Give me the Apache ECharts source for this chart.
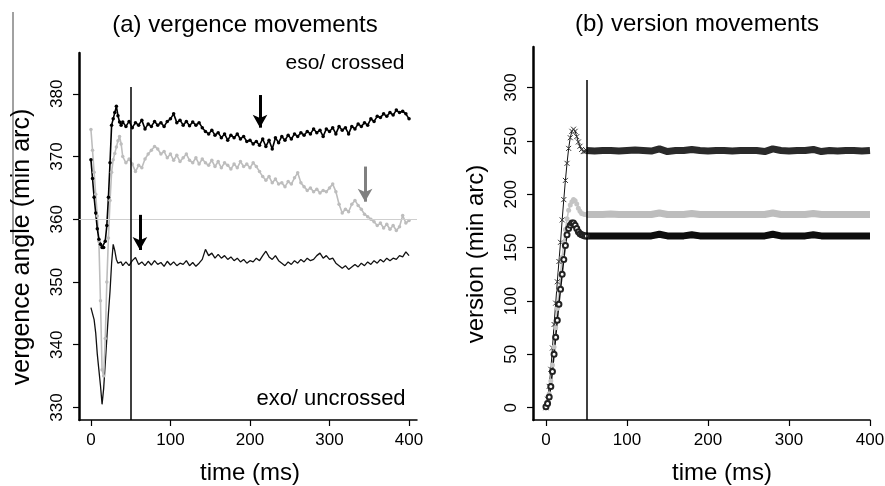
<!DOCTYPE html>
<html>
<head>
<meta charset="utf-8">
<script src="https://cdn.jsdelivr.net/npm/echarts@6/dist/echarts.min.js"></script>
<style>
  html, body { margin: 0; padding: 0; background: #fff; }
  #chart { width: 885px; height: 486px; }
</style>
</head>
<body>
<div id="chart"></div>
<script>
/* tick labels */
const xTicks = [0, 100, 200, 300, 400];
const yTicksA = [330, 340, 350, 360, 370, 380];
const yTicksB = [0, 50, 100, 150, 200, 250, 300];

/* (a) vergence: sample times (ms) */
const tA = [0,2,4,6,8,10,12,14,16,18,20,22,24,26,28,30,32,34,36,38,40,
  44,48,52,56,60,64,68,72,76,80,84,88,92,96,100,104,108,112,116,120,
  124,128,132,136,140,144,148,152,156,160,164,168,172,176,180,184,188,192,196,200,
  204,208,212,216,220,224,228,232,236,240,244,248,252,256,260,264,268,272,276,280,
  284,288,292,296,300,304,308,312,316,320,324,328,332,336,340,344,348,352,356,360,
  364,368,372,376,380,384,388,392,396,400];

/* eso / crossed, black with dots */
const esoBlack = [369.5,366.5,363.5,361,358.5,356.8,356,355.5,355.5,356.5,359,363.5,369,375,376,377,378,376.5,375.5,375,375.5,
  374.8,375.6,374.6,375.4,375.0,375.8,374.4,375.2,374.8,375.6,
  375.0,375.4,374.8,375.6,376.0,376.8,375.4,375.8,375.0,375.6,
  374.9,375.5,375.0,375.4,374.6,374.0,373.6,374.2,373.4,373.8,
  373.0,373.6,372.6,373.4,373.0,373.6,372.8,373.2,372.4,372.6,
  372.0,372.4,371.8,372.8,371.6,372.6,371.2,373.0,372.2,373.2,
  372.6,373.4,372.8,373.6,373.2,373.8,373.4,374.0,373.6,374.4,
  373.8,374.2,373.2,374.4,374.0,374.6,373.6,374.8,374.2,374.6,
  373.6,374.8,374.4,375.2,374.8,375.4,375.0,376.0,375.6,376.4,
  376.2,376.8,376.4,377.0,376.6,377.4,377.0,377.2,376.8,376.0];

/* grey with dots */
const esoGrey = [374.3,371,367.5,364,360.5,356.5,347,336,335,341,350,357,363,367.5,369.5,370.5,371.5,372.5,373.2,372,370,
  369.0,369.6,368.8,367.6,368.6,368.2,369.6,370.4,371.0,371.6,
  371.2,370.4,370.8,369.8,370.4,369.4,370.2,369.2,369.8,370.4,
  369.4,369.0,369.8,368.8,369.6,369.0,368.6,369.4,368.4,369.2,
  368.2,369.0,368.6,368.0,368.8,368.2,369.2,368.4,368.8,368.2,
  369.0,368.4,367.6,366.8,366.2,366.8,365.8,366.4,365.6,365.8,
  365.2,366.0,365.6,366.6,367.4,365.8,365.2,364.6,365.0,364.4,
  364.8,364.2,364.6,364.4,365.0,365.6,364.4,362.4,361.0,361.6,
  361.2,362.4,363.0,362.2,361.6,360.8,360.4,360.0,359.6,359.0,
  359.4,358.6,359.2,358.4,359.0,358.2,358.8,360.6,359.4,359.8];

/* exo / uncrossed, thin black */
const exoBlack = [345.9,345.6,344,341.9,338.5,336,333.5,330.5,333,337,341,345,348.5,353,356,355,353.6,353,352.8,353.2,352.6,
  353.2,352.6,353.4,353.9,352.8,353.2,352.6,353.3,352.7,353.4,
  352.8,353.1,352.5,353.3,352.7,353.2,352.6,353.0,352.8,353.4,
  352.6,353.1,352.5,353.0,353.6,355.2,354.2,354.6,353.8,354.4,
  353.8,354.2,353.6,354.0,353.4,353.8,353.2,353.6,353.0,353.4,
  353.2,353.8,353.4,354.2,354.9,354.0,353.6,354.2,353.4,353.0,
  352.6,353.2,352.8,353.4,353.0,353.6,353.2,353.8,353.4,353.6,
  354.2,354.6,353.8,354.2,353.6,353.8,353.0,352.6,352.2,352.6,
  352.0,352.4,352.8,352.4,353.0,352.6,353.2,352.8,353.4,353.0,
  353.6,353.2,353.8,353.4,353.8,353.6,354.2,354.0,354.8,354.2];

/* (b) version: rise sampled every 2 ms, plateau every 10 ms */
const tRise = [0,2,4,6,8,10,12,14,16,18,20,22,24,26,28,30,32,34,36,38,40,42,44,46,48,50];
const tFlat = [50,60,70,80,90,100,110,120,130,140,150,160,170,180,190,200,210,220,230,240,
  250,260,270,280,290,300,310,320,330,340,350,360,370,380,390,400];

const crossRise = [0,8,20,36,56,78,98,118,137,155,176,195,213,229,243,253,259,261,259,254,249,245,242,240,240,241];
const crossFlat = [241,240.5,241,241,240.5,241,241.5,241,240.5,242.5,240,241,241,242,241,240.5,241,241,240.5,241,
  241,241,240,242.5,241,240.5,241,241,242,240,241,240.5,241,241,240.5,241];
const greyRise = [0,5,13,25,40,57,75,93,110,126,141,155,167,177,185,190,193,195,194,191,187,184,182,181.5,181,181];
const greyFlat = [181,181,181,181.5,181,181,181,181,181,182.5,181,181,181,182,181,181,181,181,181,181,
  181,181,181,182.5,181,181,181,181,182,181,181,181,181,181,181,181];
const circRise = [1,4,10,20,34,50,66,82,97,111,125,139,152,162,168,171,173,173,171,168,165,163,162,161.5,161,161];
const circFlat = [161,161,161,161,161,161,161,161,161,162.5,161,161,161,162,161,161,161,161,161,161,
  161,161,161,162.5,161,161,161,161,162,161,161,161,161,161,161,161];

const FONT = 'Liberation Sans, Arial, Helvetica, sans-serif';
const pairs = (ts, vs) => ts.map((t, i) => [t, vs[i]]);

function xAxis(gridIndex, min, max) {
    return {
        type: 'value', gridIndex: gridIndex, min: min, max: max,
        axisLine: { show: true, onZero: false, lineStyle: { color: '#000', width: 1.5 } },
        axisTick: { show: true, customValues: xTicks, length: 6, lineStyle: { color: '#000', width: 1.2 } },
        axisLabel: { customValues: xTicks, color: '#000', fontSize: 17, fontFamily: FONT, margin: 12 },
        splitLine: { show: false },
    };
}
function yAxis(gridIndex, min, max, ticks) {
    return {
        type: 'value', gridIndex: gridIndex, min: min, max: max,
        axisLine: { show: true, onZero: false, lineStyle: { color: '#000', width: 2.5 } },
        axisTick: { show: true, customValues: ticks, length: 6, lineStyle: { color: '#000', width: 1.2 } },
        axisLabel: { customValues: ticks, rotate: 90, color: '#000', fontSize: 17, fontFamily: FONT, margin: 13 },
        splitLine: { show: false },
    };
}
function text(str, x, y, size, rot) {
    return {
        type: 'text', x: x, y: y, rotation: rot || 0, silent: true,
        style: { text: str, fill: '#000', font: size + 'px ' + FONT, align: 'center', verticalAlign: 'middle' },
    };
}
const plain = { silent: true, symbol: ['none', 'none'], label: { show: false } };

const chart = echarts.init(document.getElementById('chart'));
chart.setOption({
    animation: false,
    grid: [
        { left: 79, top: 53, width: 338, height: 367, containLabel: false, outerBoundsMode: 'none' },
        { left: 533, top: 47, width: 337, height: 373, containLabel: false, outerBoundsMode: 'none' },
    ],
    xAxis: [xAxis(0, -15, 410), xAxis(1, -16, 400)],
    yAxis: [yAxis(0, 328, 386.5, yTicksA), yAxis(1, -11.5, 338, yTicksB)],
    graphic: [
        { type: 'line', silent: true, shape: { x1: 13, y1: 12, x2: 13, y2: 244 }, style: { stroke: '#444', lineWidth: 1 } },
        text('(a) vergence movements', 245, 25, 24),
        text('(b) version movements', 697, 24, 24),
        text('eso/ crossed', 345, 63, 21),
        text('exo/ uncrossed', 331, 399, 22),
        text('vergence angle (min arc)', 22, 247, 25, Math.PI / 2),
        text('version (min arc)', 476, 254, 24, Math.PI / 2),
        text('time (ms)', 250, 473, 24),
        text('time (ms)', 722, 473, 24),
    ],
    series: [
        {
            type: 'line', xAxisIndex: 0, yAxisIndex: 0, data: pairs(tA, exoBlack),
            showSymbol: false, symbol: 'none', lineStyle: { color: '#111', width: 1.3 },
            markLine: Object.assign({}, plain, {
                lineStyle: { color: '#000', width: 1.5, type: 'solid' },
                data: [
                    [{ coord: [-15, 360], lineStyle: { color: '#cfcfcf', width: 1 } }, { coord: [410, 360] }],
                    [{ coord: [50, 328] }, { coord: [50, 381.1] }],
                ],
            }),
        },
        {
            type: 'line', xAxisIndex: 0, yAxisIndex: 0, data: pairs(tA, esoGrey),
            symbol: 'circle', symbolSize: 3.5, itemStyle: { color: '#bdbdbd' },
            lineStyle: { color: '#bdbdbd', width: 1.6 },
        },
        {
            type: 'line', xAxisIndex: 0, yAxisIndex: 0, data: pairs(tA, esoBlack),
            symbol: 'circle', symbolSize: 3.5, itemStyle: { color: '#000' },
            lineStyle: { color: '#000', width: 1.6 },
            markLine: {
                silent: true, symbol: ['none', 'arrow'], symbolSize: [11, 13], label: { show: false },
                lineStyle: { color: '#000', width: 3, type: 'solid' },
                data: [
                    [{ coord: [212.6, 379.8] }, { coord: [212.6, 374.6] }],
                    [{ coord: [61.6, 360.7] }, { coord: [61.6, 355.1] }],
                    [{ coord: [344.7, 368.4], lineStyle: { color: '#808080' } }, { coord: [344.7, 362.8] }],
                ],
            },
        },
        {
            type: 'line', xAxisIndex: 1, yAxisIndex: 1, data: pairs(tFlat, crossFlat),
            symbol: 'none', lineStyle: { color: '#2a2a2a', width: 7 },
            markLine: Object.assign({}, plain, {
                data: [[{ coord: [50, -11.5] }, { coord: [50, 307] }]],
                lineStyle: { color: '#000', width: 1.5, type: 'solid' },
            }),
        },
        {
            type: 'line', xAxisIndex: 1, yAxisIndex: 1, data: pairs(tRise, crossRise),
            symbol: 'path://M0,0L10,10M10,0L0,10', symbolSize: 5,
            itemStyle: { color: 'none', borderColor: '#333', borderWidth: 1 },
            lineStyle: { color: '#111', width: 1 },
        },
        {
            type: 'line', xAxisIndex: 1, yAxisIndex: 1, data: pairs(tFlat, greyFlat),
            symbol: 'none', lineStyle: { color: '#bdbdbd', width: 7 },
        },
        {
            type: 'line', xAxisIndex: 1, yAxisIndex: 1, data: pairs(tRise, greyRise),
            symbol: 'circle', symbolSize: 5, itemStyle: { color: '#c4c4c4' },
            lineStyle: { color: '#c4c4c4', width: 1.5 },
        },
        {
            type: 'line', xAxisIndex: 1, yAxisIndex: 1, data: pairs(tFlat, circFlat),
            symbol: 'none', lineStyle: { color: '#0d0d0d', width: 7 },
        },
        {
            type: 'line', xAxisIndex: 1, yAxisIndex: 1, data: pairs(tRise, circRise),
            symbol: 'emptyCircle', symbolSize: 5, itemStyle: { color: '#222', borderWidth: 1.2 },
            lineStyle: { color: '#111', width: 1.5 },
        },
    ],
});
</script>
</body>
</html>
